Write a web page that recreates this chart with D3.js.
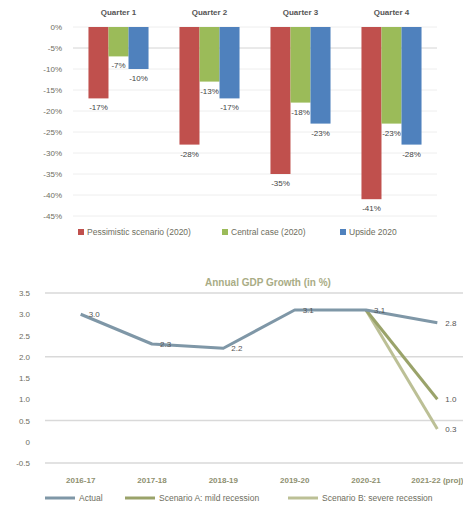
<!DOCTYPE html>
<html>
<head>
<meta charset="utf-8">
<script src="https://cdn.jsdelivr.net/npm/d3@7"></script>
<style>
  body { margin: 0; background: #fff; }
  svg { display: block; font-family: "Liberation Sans", Arial, sans-serif; }
</style>
</head>
<body>
<svg id="chart" width="463" height="512"></svg>
<script>
// ---- Bar panel data ----
const groups = ["Quarter 1", "Quarter 2", "Quarter 3", "Quarter 4"];
const seriesNames = ["Pessimistic scenario (2020)", "Central case (2020)", "Upside 2020"];
const pessimistic = [-17, -28, -35, -41];
const central = [-7, -13, -18, -23];
const upside = [-10, -17, -23, -28];
const barTicks = [0, -5, -10, -15, -20, -25, -30, -35, -40, -45];

// ---- Line panel data ----
const years = ["2016-17", "2017-18", "2018-19", "2019-20", "2020-21", "2021-22 (proj)"];
const lineNames = ["Actual", "Scenario A: mild recession", "Scenario B: severe recession"];
const actual = [3.0, 2.3, 2.2, 3.1, 3.1, 2.8];
const mild = [null, null, null, null, 3.1, 1.0];
const severe = [null, null, null, null, 3.1, 0.3];
const lineTicks = [3.5, 3, 2.5, 2, 1.5, 1, 0.5, 0, -0.5];
const lineTickLabels = ["3.5", "3.0", "2.5", "2.0", "1.5", "1.0", "0.5", "0", "-0.5"];
const lineGrid = [3.5, 2, 0.5, -0.5];

const barColors = ["#c0504d", "#9bbb59", "#4f81bd"];
const lineColors = ["#7f97a7", "#9aa36a", "#bcc096"];
const textColor = "#6e6e5e";

const svg = d3.select("#chart");

// ================= Bar panel =================
const bar = svg.append("g");
const bx = d3.scaleBand().domain(groups).range([73, 437]).paddingInner(0.34).paddingOuter(0.17);
const bxi = d3.scaleBand().domain(seriesNames).range([0, bx.bandwidth()]);
const by = d3.scaleLinear().domain([-45, 0]).range([216, 27]);

bar.append("g").selectAll("line").data(barTicks).join("line")
  .attr("x1", 73).attr("x2", 437)
  .attr("y1", d => by(d)).attr("y2", d => by(d))
  .attr("stroke", d => d === -5 ? "#d4d4d4" : "#eeeeee").attr("stroke-width", 1);

const yAxisBar = d3.axisLeft(by).tickValues(barTicks).tickFormat(d => d + "%").tickSize(0).tickPadding(0);
bar.append("g").attr("transform", "translate(62,0)").call(yAxisBar)
  .call(g => g.select(".domain").remove())
  .call(g => g.selectAll("text").attr("fill", textColor).attr("font-size", 8));

const barSeries = [pessimistic, central, upside];
const barRows = [];
groups.forEach((g, gi) => seriesNames.forEach((s, si) => barRows.push({ g, s, si, v: barSeries[si][gi] })));

bar.append("g").selectAll("rect").data(barRows).join("rect")
  .attr("x", d => bx(d.g) + bxi(d.s))
  .attr("width", bxi.bandwidth())
  .attr("y", by(0))
  .attr("height", d => by(d.v) - by(0))
  .attr("fill", d => barColors[d.si]);

bar.append("g").selectAll("text").data(barRows).join("text")
  .attr("x", d => bx(d.g) + bxi(d.s) + bxi.bandwidth() / 2)
  .attr("y", d => by(d.v) + 12)
  .attr("text-anchor", "middle")
  .attr("font-size", 8)
  .attr("fill", "#444")
  .text(d => d.v + "%");

bar.append("g").selectAll("text").data(groups).join("text")
  .attr("x", d => bx(d) + bx.bandwidth() / 2)
  .attr("y", 15)
  .attr("text-anchor", "middle")
  .attr("font-size", 8)
  .attr("font-weight", "bold")
  .attr("fill", "#555")
  .text(d => d);

const barLegendX = [78, 222, 340];
const bl = bar.append("g").selectAll("g").data(seriesNames).join("g")
  .attr("transform", (d, i) => `translate(${barLegendX[i]},232)`);
bl.append("rect").attr("x", 0).attr("y", -3).attr("width", 6).attr("height", 6)
  .attr("fill", (d, i) => barColors[i]);
bl.append("text").attr("x", 9).attr("y", 3).attr("font-size", 8.5).attr("fill", textColor).text(d => d);

// ================= Line panel =================
const ln = svg.append("g");
const lx = d3.scaleBand().domain(years).range([45, 473]);
const cx = d => lx(d) + lx.bandwidth() / 2;
const ly = d3.scaleLinear().domain([-0.5, 3.5]).range([463, 293]);

ln.append("text").attr("x", 268).attr("y", 286).attr("text-anchor", "middle")
  .attr("font-size", 10).attr("font-weight", "bold").attr("fill", "#a9ac85")
  .text("Annual GDP Growth (in %)");

ln.append("g").selectAll("line").data(lineGrid).join("line")
  .attr("x1", 45).attr("x2", 463)
  .attr("y1", d => ly(d)).attr("y2", d => ly(d))
  .attr("stroke", "#d9d9d9").attr("stroke-width", 1.5);

const yAxisLine = d3.axisLeft(ly).tickValues(lineTicks)
  .tickFormat((d, i) => lineTickLabels[i]).tickSize(0).tickPadding(0);
ln.append("g").attr("transform", "translate(30,0)").call(yAxisLine)
  .call(g => g.select(".domain").remove())
  .call(g => g.selectAll("text").attr("fill", textColor).attr("font-size", 8));

const xAxisLine = d3.axisBottom(lx).tickSize(0).tickPadding(0);
ln.append("g").attr("transform", "translate(0,477)").call(xAxisLine)
  .call(g => g.select(".domain").remove())
  .call(g => g.selectAll("text").attr("fill", "#8e9070").attr("font-size", 8).attr("font-weight", "bold"));

const lineSeries = [actual, mild, severe];
const lineGen = d3.line().defined(d => d.v != null).x(d => cx(d.y)).y(d => ly(d.v));
const lineRows = lineSeries.map((arr, si) => arr.map((v, i) => ({ y: years[i], v, si })));

ln.append("g").selectAll("path").data(lineRows.slice().reverse()).join("path")
  .attr("d", lineGen)
  .attr("fill", "none")
  .attr("stroke", d => lineColors[d[0].si])
  .attr("stroke-width", 3)
  .attr("stroke-linejoin", "round");

const labelled = [];
lineRows.forEach((rows, si) => rows.forEach((d, i) => {
  if (d.v == null) return;
  if (si > 0 && i === 4) return;
  labelled.push(d);
}));
ln.append("g").selectAll("text").data(labelled).join("text")
  .attr("x", d => cx(d.y) + 8)
  .attr("y", d => ly(d.v))
  .attr("dy", "0.35em")
  .attr("font-size", 8)
  .attr("fill", "#555")
  .text(d => d3.format(".1f")(d.v));

const lineLegendX = [45, 125, 288];
const ll = ln.append("g").selectAll("g").data(lineNames).join("g")
  .attr("transform", (d, i) => `translate(${lineLegendX[i]},498)`);
ll.append("line").attr("x1", 0).attr("x2", 30).attr("y1", 0).attr("y2", 0)
  .attr("stroke", (d, i) => lineColors[i]).attr("stroke-width", 3);
ll.append("text").attr("x", 34).attr("y", 3).attr("font-size", 8.5).attr("fill", textColor).text(d => d);
</script>
</body>
</html>
